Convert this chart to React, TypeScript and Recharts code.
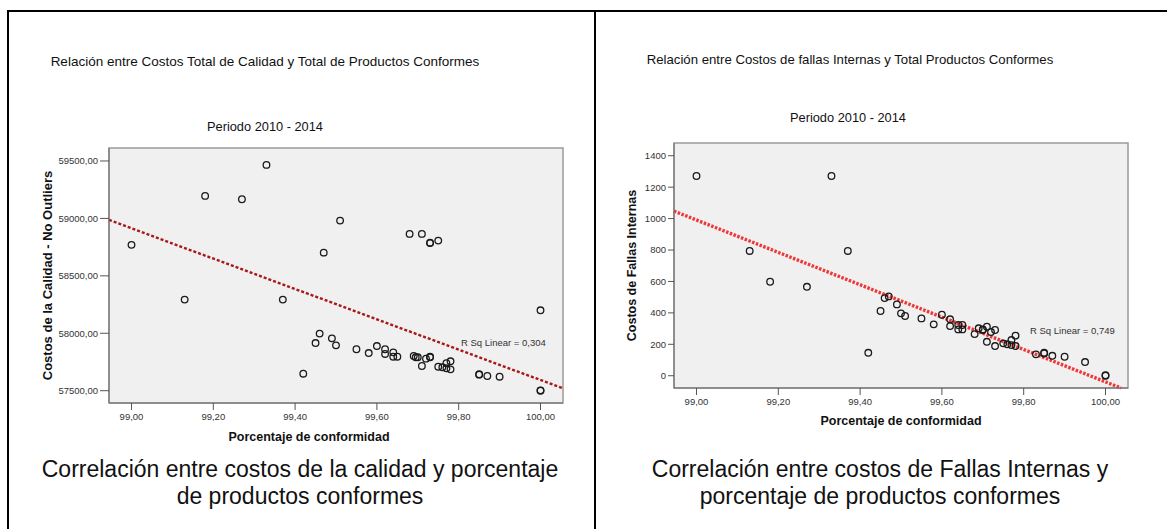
import React from 'react';
import { ScatterChart, Scatter, XAxis, YAxis, ReferenceArea, ReferenceLine } from 'recharts';

// Porcentaje de conformidad vs Costos Totales de Calidad (left panel)
const calidadPct = [
  99.0, 99.13, 99.18, 99.27, 99.33, 99.37, 99.42, 99.45, 99.46, 99.47, 99.49, 99.5, 99.51, 99.55, 99.58,
  99.6, 99.62, 99.62, 99.64, 99.64, 99.65, 99.68, 99.69, 99.695, 99.7, 99.71, 99.71, 99.72, 99.73, 99.73,
  99.73, 99.73, 99.75, 99.75, 99.76, 99.77, 99.77, 99.78, 99.78, 99.85, 99.85, 99.87, 99.9, 100.0, 100.0, 100.0,
];
const calidadCost = [
  58770, 58293, 59196, 59167, 59466, 58293, 57648, 57915, 57997, 58702, 57956, 57895, 58981, 57861, 57828,
  57889, 57861, 57820, 57834, 57796, 57796, 58865, 57802, 57791, 57791, 58865, 57715, 57779, 58789, 58785,
  57791, 57795, 58807, 57709, 57704, 57739, 57695, 57756, 57686, 57643, 57640, 57628, 57622, 58200, 57500, 57503,
];

// Porcentaje de conformidad vs Costos de Fallas Internas (right panel)
const fallasPct = [
  99.0, 99.13, 99.18, 99.27, 99.33, 99.37, 99.42, 99.45, 99.46, 99.47, 99.49, 99.5, 99.51, 99.55, 99.58,
  99.6, 99.62, 99.62, 99.64, 99.64, 99.65, 99.65, 99.68, 99.69, 99.7, 99.7, 99.71, 99.71, 99.72, 99.73,
  99.73, 99.75, 99.76, 99.77, 99.77, 99.78, 99.78, 99.83, 99.85, 99.85, 99.87, 99.9, 99.95, 100.0, 100.0,
];
const fallasCost = [
  1271, 794, 598, 566, 1271, 794, 146, 412, 494, 505, 454, 397, 380, 365, 327,
  388, 359, 316, 323, 295, 323, 295, 265, 302, 291, 295, 312, 216, 278, 291,
  189, 206, 200, 195, 227, 255, 189, 136, 146, 142, 127, 121, 87, 0, 3,
];

const xTicks = [99.0, 99.2, 99.4, 99.6, 99.8, 100.0];
const calidadTicks = [57500, 58000, 58500, 59000, 59500];
const fallasTicks = [0, 200, 400, 600, 800, 1000, 1200, 1400];

// linear fit: value at 99,00 and slope per point
const calidadFit = { at99: 58914, slope: -1321, r2: '0,304' };
const fallasFit = { at99: 991, slope: -1030, r2: '0,749' };

const xDomain: [number, number] = [98.945, 100.055];
const calidadDomain: [number, number] = [57393, 59613];
const fallasDomain: [number, number] = [-78, 1481];

const FONT = '"Liberation Sans", Arial, sans-serif';

const toPoints = (xs: number[], ys: number[]) => xs.map((x, i) => ({ x, y: ys[i] }));

const comma = (v: number) => v.toFixed(2).replace('.', ',');

// clip the fitted line to the plot box
const fitSegment = (fit: { at99: number; slope: number }, yDom: [number, number]) => {
  const f = (x: number) => fit.at99 + fit.slope * (x - 99);
  const x0 = xDomain[0];
  let x1 = xDomain[1];
  if (f(x1) < yDom[0]) x1 = 99 + (yDom[0] - fit.at99) / fit.slope;
  return [
    { x: x0, y: f(x0) },
    { x: x1, y: f(x1) },
  ];
};

const Ring = (props: any) => (
  <circle cx={props.cx} cy={props.cy} r={3.3} fill="none" stroke="#1a1a1a" strokeWidth={1.3} />
);

const tickStyle = { fill: '#333', fontSize: 9.5, fontFamily: FONT };
const labelStyle = (size: number) => ({
  fill: '#111',
  fontSize: size,
  fontWeight: 700,
  fontFamily: FONT,
  textAnchor: 'middle' as const,
});

interface PanelProps {
  data: { x: number; y: number }[];
  yDomain: [number, number];
  yTicks: number[];
  yFormat: (v: number) => string;
  yLabel: string;
  yLabelSize: number;
  yWidth: number;
  yTickSize: number;
  margin: { top: number; right: number; bottom: number; left: number };
  xLabelOffset: number;
  xLabelDx: number;
  seg: { x: number; y: number }[];
  lineColor: string;
  lineWidth: number;
  dash: string;
}

const Panel: React.FC<PanelProps> = (p) => (
  <ScatterChart width={p.margin.left + p.yWidth + 454 + p.margin.right} height={460} margin={p.margin}>
    <XAxis
      type="number"
      dataKey="x"
      domain={xDomain}
      ticks={xTicks}
      allowDataOverflow
      tickFormatter={comma}
      tick={tickStyle}
      tickSize={7}
      tickMargin={3}
      height={40}
      axisLine={{ stroke: '#6a6a6a' }}
      tickLine={{ stroke: '#555' }}
      label={{
        value: 'Porcentaje de conformidad',
        position: 'insideBottom',
        offset: p.xLabelOffset,
        dx: p.xLabelDx,
        style: labelStyle(12.5),
      }}
    />
    <YAxis
      type="number"
      dataKey="y"
      domain={p.yDomain}
      ticks={p.yTicks}
      allowDataOverflow
      tickFormatter={p.yFormat}
      tick={tickStyle}
      tickSize={p.yTickSize}
      tickMargin={2}
      width={p.yWidth}
      axisLine={{ stroke: '#6a6a6a' }}
      tickLine={{ stroke: '#555' }}
      label={{ value: p.yLabel, angle: -90, position: 'insideLeft', offset: 8, style: labelStyle(p.yLabelSize) }}
    />
    <ReferenceArea
      x1={xDomain[0]}
      x2={xDomain[1]}
      y1={p.yDomain[0]}
      y2={p.yDomain[1]}
      fill="#f0f0f0"
      fillOpacity={1}
      stroke="#9a9a9a"
      strokeWidth={1.5}
      ifOverflow="visible"
    />
    <ReferenceLine
      segment={p.seg}
      stroke={p.lineColor}
      strokeWidth={p.lineWidth}
      strokeDasharray={p.dash}
      ifOverflow="visible"
    />
    <Scatter data={p.data} shape={Ring} isAnimationActive={false} />
  </ScatterChart>
);

const abs = (style: React.CSSProperties): React.CSSProperties => ({ position: 'absolute', ...style });

const Title: React.FC<{ cx: number; cy: number; size: number; text: string }> = ({ cx, cy, size, text }) => (
  <div
    style={abs({
      left: cx - 300,
      top: cy - 9,
      width: 600,
      height: 18,
      lineHeight: '18px',
      textAlign: 'center',
      fontSize: size,
      fontFamily: FONT,
      color: '#111',
      whiteSpace: 'nowrap',
    })}
  >
    {text}
  </div>
);

const Caption: React.FC<{ cx: number; lines: string[] }> = ({ cx, lines }) => (
  <div
    style={abs({
      left: cx - 290,
      top: 456,
      width: 580,
      textAlign: 'center',
      fontSize: 23,
      lineHeight: '27px',
      fontFamily: FONT,
      color: '#111',
      whiteSpace: 'nowrap',
    })}
  >
    {lines.map((l) => (
      <div key={l}>{l}</div>
    ))}
  </div>
);

const RSq: React.FC<{ left: number; cy: number; text: string }> = ({ left, cy, text }) => (
  <div
    style={abs({ left, top: cy - 6, height: 12, lineHeight: '12px', fontSize: 9.5, fontFamily: FONT, color: '#333', whiteSpace: 'nowrap' })}
  >
    {text}
  </div>
);

export default function App() {
  return (
    <div style={abs({ left: 0, top: 0, width: 1167, height: 529, background: '#fff', overflow: 'hidden' })}>
      {/* table borders */}
      <div style={abs({ left: 7, top: 10, width: 1160, height: 2, background: '#000' })} />
      <div style={abs({ left: 7, top: 10, width: 2, height: 519, background: '#000' })} />
      <div style={abs({ left: 594, top: 10, width: 2, height: 519, background: '#000' })} />

      <div style={abs({ left: 0, top: 0 })}>
        <Panel
          data={toPoints(calidadPct, calidadCost)}
          yDomain={calidadDomain}
          yTicks={calidadTicks}
          yFormat={comma}
          yLabel="Costos de la Calidad - No Outliers"
          yLabelSize={13}
          yWidth={70}
          yTickSize={9}
          margin={{ top: 148, right: 31, bottom: 17, left: 39 }}
          xLabelOffset={2}
          xLabelDx={-27}
          seg={fitSegment(calidadFit, calidadDomain)}
          lineColor="#a81818"
          lineWidth={2.4}
          dash="3 2"
        />
      </div>
      <div style={abs({ left: 596, top: 0 })}>
        <Panel
          data={toPoints(fallasPct, fallasCost)}
          yDomain={fallasDomain}
          yTicks={fallasTicks}
          yFormat={(v) => String(v)}
          yLabel="Costos de Fallas Internas"
          yLabelSize={12.5}
          yWidth={50}
          yTickSize={6}
          margin={{ top: 143, right: 39, bottom: 32, left: 28 }}
          xLabelOffset={3}
          xLabelDx={0}
          seg={fitSegment(fallasFit, fallasDomain)}
          lineColor="#f03636"
          lineWidth={3.4}
          dash="2.5 1.5"
        />
      </div>

      <Title cx={265} cy={62} size={13.5} text="Relación entre Costos Total de Calidad y Total de Productos Conformes" />
      <Title cx={265} cy={127} size={12.8} text="Periodo 2010 - 2014" />
      <Title cx={850} cy={60} size={13.2} text="Relación entre Costos de fallas Internas y Total Productos Conformes" />
      <Title cx={848} cy={118} size={12.8} text="Periodo 2010 - 2014" />

      <RSq left={461} cy={343} text={`R Sq Linear = ${calidadFit.r2}`} />
      <RSq left={1030} cy={331} text={`R Sq Linear = ${fallasFit.r2}`} />

      <Caption cx={300} lines={['Correlación entre costos de la calidad y porcentaje', 'de productos conformes']} />
      <Caption cx={880} lines={['Correlación entre costos de Fallas Internas y', 'porcentaje de productos conformes']} />
    </div>
  );
}
